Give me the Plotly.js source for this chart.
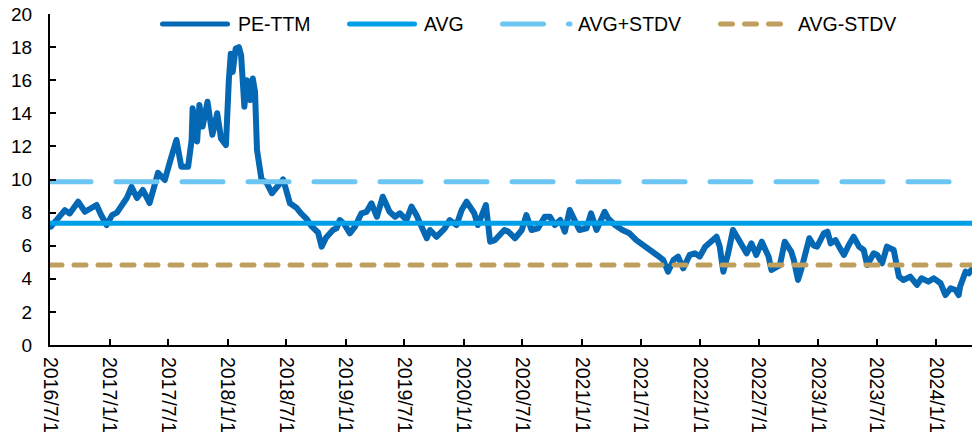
<!DOCTYPE html>
<html>
<head>
<meta charset="utf-8">
<script src="https://cdn.plot.ly/plotly-3.0.1.min.js"></script>
<style>
  html, body { margin: 0; padding: 0; background: #fff; }
  #chart { width: 974px; height: 438px; }
  .scatterlayer .js-line { stroke-linecap: round; stroke-linejoin: round; }
  .shapelayer path { stroke-linecap: round; }
</style>
</head>
<body>
<div id="chart"></div>
<script>
// ---- data ----
const dates = [
  '2016-07-04','2016-07-25','2016-08-16','2016-08-31','2016-09-26','2016-10-17','2016-11-01','2016-11-22','2016-12-05','2016-12-23',
  '2017-01-09','2017-01-24','2017-02-13','2017-02-24','2017-03-10','2017-03-27','2017-04-14','2017-05-05','2017-05-31','2017-06-21',
  '2017-07-07','2017-07-27','2017-08-11','2017-09-01','2017-09-12','2017-09-15','2017-09-29','2017-10-06','2017-10-16','2017-10-31',
  '2017-11-15','2017-11-30','2017-12-12','2017-12-27','2018-01-05','2018-01-11','2018-01-17','2018-01-26','2018-02-05','2018-02-12',
  '2018-02-22','2018-03-02','2018-03-12','2018-03-20','2018-03-27','2018-04-02','2018-04-16','2018-05-02','2018-05-18','2018-06-06',
  '2018-06-22','2018-07-13','2018-08-02','2018-08-16','2018-09-03','2018-09-19','2018-10-08','2018-10-19','2018-11-02','2018-11-23',
  '2018-12-04','2018-12-14','2018-12-28','2019-01-14','2019-01-30','2019-02-19','2019-03-07','2019-03-22','2019-04-08','2019-04-26',
  '2019-05-17','2019-06-03','2019-06-18','2019-07-08','2019-07-24','2019-08-08','2019-08-29','2019-09-09','2019-09-19','2019-10-09',
  '2019-11-04','2019-11-19','2019-12-10','2019-12-26','2020-01-10','2020-01-20','2020-02-03','2020-02-14','2020-03-02','2020-03-10',
  '2020-03-23','2020-04-07','2020-05-06','2020-05-18','2020-06-08','2020-06-29','2020-07-13','2020-07-29','2020-08-18','2020-09-08',
  '2020-09-24','2020-10-09','2020-10-26','2020-11-09','2020-11-24','2020-12-04','2020-12-24','2021-01-15','2021-01-29','2021-02-15',
  '2021-02-25','2021-03-12','2021-03-23','2021-04-13','2021-05-06','2021-05-28','2021-06-18','2021-07-09','2021-07-30','2021-08-13',
  '2021-08-30','2021-09-09','2021-09-24','2021-10-11','2021-10-25','2021-11-10','2021-11-30','2021-12-16','2021-12-31','2022-01-17',
  '2022-02-07','2022-02-21','2022-03-03','2022-03-14','2022-03-29','2022-04-13','2022-04-28','2022-05-09','2022-05-25','2022-06-09',
  '2022-06-24','2022-07-11','2022-08-01','2022-08-10','2022-09-05','2022-09-20','2022-10-10','2022-10-18','2022-10-31','2022-11-11',
  '2022-11-28','2022-12-05','2022-12-19','2022-12-29','2023-01-19','2023-01-30','2023-02-09','2023-02-24','2023-03-07','2023-03-22',
  '2023-04-06','2023-04-21','2023-05-08','2023-05-22','2023-06-02','2023-06-22','2023-07-03','2023-07-18','2023-08-02','2023-08-18',
  '2023-08-23','2023-09-08','2023-09-22','2023-10-13','2023-11-03','2023-11-17','2023-12-08','2023-12-25','2024-01-15','2024-01-30',
  '2024-02-15','2024-03-01','2024-03-11','2024-03-15','2024-04-01','2024-04-11','2024-04-19'
];
const peTTM = [
  7.15, 7.60, 8.15, 7.95, 8.66, 8.05, 8.20, 8.46, 7.90, 7.25,
  7.85, 8.00, 8.58, 8.90, 9.56, 8.88, 9.37, 8.58, 10.40, 9.97,
  11.08, 12.39, 10.77, 10.77, 12.40, 14.30, 12.30, 14.50, 13.20, 14.70,
  12.70, 14.00, 12.46, 12.08, 16.00, 17.60, 16.50, 17.90, 18.00, 17.50,
  14.40, 16.00, 14.80, 16.10, 15.30, 11.80, 10.00, 9.80, 9.17, 9.60,
  10.00, 8.56, 8.30, 7.96, 7.60, 7.15, 6.80, 5.94, 6.50, 6.95,
  7.05, 7.55, 7.30, 6.75, 7.15, 7.96, 8.05, 8.56, 7.75, 8.96,
  8.05, 7.75, 7.96, 7.55, 8.36, 7.85, 7.05, 6.45, 6.95, 6.54,
  7.05, 7.55, 7.25, 8.16, 8.66, 8.36, 7.96, 7.25, 8.16, 8.46,
  6.24, 6.34, 6.95, 6.85, 6.45, 6.95, 7.85, 6.95, 7.05, 7.75,
  7.75, 7.25, 7.55, 6.85, 8.16, 7.75, 6.95, 7.05, 7.96, 6.95,
  7.35, 8.05, 7.65, 7.25, 6.95, 6.75, 6.34, 6.04, 5.84, 5.60,
  5.30, 5.14, 4.43, 5.14, 5.34, 4.63, 5.44, 5.54, 5.34, 5.94,
  6.24, 6.54, 5.94, 4.43, 5.54, 6.95, 6.45, 6.14, 5.54, 6.14,
  5.44, 6.24, 5.34, 4.53, 4.83, 6.24, 5.64, 5.14, 3.93, 4.63,
  5.74, 6.45, 6.00, 5.94, 6.75, 6.85, 6.14, 6.34, 5.94, 5.44,
  6.04, 6.54, 5.94, 5.74, 4.83, 5.54, 5.44, 4.94, 5.94, 5.84,
  5.74, 4.13, 3.93, 4.13, 3.63, 4.03, 3.83, 4.03, 3.73, 3.02,
  3.43, 3.32, 3.02, 3.52, 4.43, 4.33, 4.53, 4.43
];
const refDates = ['2016-07-01', '2024-04-21'];
const avgLine = [7.35, 7.35];
const avgPlusStd = [9.87, 9.87];
const avgMinusStd = [4.83, 4.83];

const seriesNames = ['PE-TTM', 'AVG', 'AVG+STDV', 'AVG-STDV'];
const seriesColors = ['#0468B4', '#00A0E9', '#6DC6F2', '#BF9F5E'];

const xTickVals = ['2016-07-01','2017-01-01','2017-07-01','2018-01-01','2018-07-01','2019-01-01','2019-07-01','2020-01-01',
  '2020-07-01','2021-01-01','2021-07-01','2022-01-01','2022-07-01','2023-01-01','2023-07-01','2024-01-01'];
const xTickText = ['2016/7/1','2017/1/1','2017/7/1','2018/1/1','2018/7/1','2019/1/1','2019/7/1','2020/1/1',
  '2020/7/1','2021/1/1','2021/7/1','2022/1/1','2022/7/1','2023/1/1','2023/7/1','2024/1/1'];
const yTickVals = [0, 2, 4, 6, 8, 10, 12, 14, 16, 18, 20];

// ---- traces ----
const traces = [
  { x: dates, y: peTTM, type: 'scatter', mode: 'lines', name: seriesNames[0],
    line: { color: seriesColors[0], width: 6 } },
  { x: refDates, y: avgLine, type: 'scatter', mode: 'lines', name: seriesNames[1],
    line: { color: seriesColors[1], width: 5 } },
  { x: refDates, y: avgPlusStd, type: 'scatter', mode: 'lines', name: seriesNames[2],
    line: { color: seriesColors[2], width: 5, dash: '41px,25px' } },
  { x: refDates, y: avgMinusStd, type: 'scatter', mode: 'lines', name: seriesNames[3],
    line: { color: seriesColors[3], width: 5, dash: '12px,12px' } }
];

// ---- custom legend (shapes + text) in paper coordinates ----
const L = 50, W = 922, T = 14, H = 331;
const px = v => (v - L) / W;
const py = v => (T + H - v) / H;
const legY = py(24);
const legendItems = [
  { x0: 162.5, x1: 227.5, tx: 236, dash: 'solid' },
  { x0: 349.5, x1: 414.5, tx: 422, dash: 'solid' },
  { x0: 502.5, x1: 570.0, tx: 576, dash: '41px,25px' },
  { x0: 720.5, x1: 780.5, tx: 796, dash: '12px,12px' }
];
const shapes = legendItems.map((it, i) => ({
  type: 'line', xref: 'paper', yref: 'paper',
  x0: px(it.x0), x1: px(it.x1), y0: legY, y1: legY,
  line: { color: seriesColors[i], width: 5, dash: it.dash }
}));
const annotations = legendItems.map((it, i) => ({
  xref: 'paper', yref: 'paper', x: px(it.tx), y: legY,
  xanchor: 'left', yanchor: 'middle', showarrow: false,
  text: seriesNames[i],
  font: { family: 'Liberation Sans, Arial, sans-serif', size: 19.5, color: '#000' }
}));

const layout = {
  width: 974, height: 438,
  margin: { l: L, r: 2, t: T, b: 93, pad: 0 },
  paper_bgcolor: '#fff', plot_bgcolor: '#fff',
  showlegend: false,
  font: { family: 'Liberation Sans, Arial, sans-serif', color: '#000' },
  xaxis: {
    type: 'date', range: refDates,
    tickmode: 'array', tickvals: xTickVals, ticktext: xTickText,
    tickangle: 90, tickfont: { size: 19.5, color: '#000' },
    ticks: 'inside', ticklen: 6, tickwidth: 2, tickcolor: '#000',
    showline: true, linecolor: '#000', linewidth: 2,
    showgrid: false, zeroline: false, ticklabelstandoff: 6
  },
  yaxis: {
    range: [0, 20], tickmode: 'array', tickvals: yTickVals,
    tickfont: { size: 19, color: '#000' },
    ticks: 'inside', ticklen: 6, tickwidth: 2, tickcolor: '#000',
    showline: true, linecolor: '#000', linewidth: 2,
    showgrid: false, zeroline: false, ticklabelstandoff: 12
  },
  shapes: shapes,
  annotations: annotations
};

Plotly.newPlot('chart', traces, layout, { staticPlot: true, displayModeBar: false });
</script>
</body>
</html>
